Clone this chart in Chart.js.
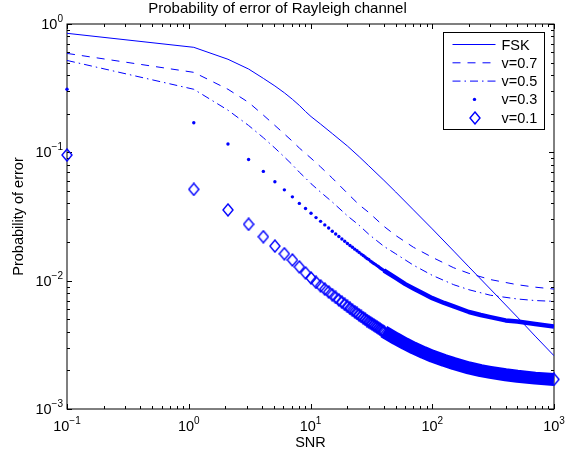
<!DOCTYPE html>
<html>
<head>
<meta charset="utf-8">
<title>Probability of error of Rayleigh channel</title>
<script src="https://cdn.jsdelivr.net/npm/chart.js@4.4.1/dist/chart.umd.min.js"></script>
<style>
  html, body { margin: 0; padding: 0; background: #fff; }
  canvas { display: block; }
</style>
</head>
<body>
<canvas id="errChart" width="573" height="458"></canvas>
<script>
// SNR grid for the three smooth curves
const snrLine = [0.1, 1.1, 2.1, 3.1, 4.1, 5.1, 6.1, 7.1, 8.1, 9.1, 10.1, 12.1, 15.1, 20.1, 25.1, 30.1,
    40.1, 50.1, 70.1, 100.1, 150.1, 200.1, 300.1, 500.1, 700.1, 1000];
const fsk = [0.846, 0.658, 0.531, 0.446, 0.377, 0.329, 0.291, 0.259, 0.232, 0.208, 0.190, 0.166, 0.140, 0.112,
    0.0925, 0.0785, 0.0605, 0.0491, 0.0356, 0.0253, 0.0170, 0.0128, 0.0086, 0.0052, 0.0037, 0.0026];
const v07 = [0.59, 0.42, 0.31, 0.245, 0.195, 0.162, 0.139, 0.122, 0.108, 0.098, 0.090, 0.077, 0.063, 0.048,
    0.039, 0.034, 0.0265, 0.0225, 0.0182, 0.0152, 0.0126, 0.0114, 0.0102, 0.0093, 0.0089, 0.0086];
const v05 = [0.52, 0.31, 0.213, 0.162, 0.130, 0.108, 0.092, 0.080, 0.070, 0.063, 0.057, 0.049, 0.041, 0.032,
    0.027, 0.023, 0.0185, 0.0162, 0.0132, 0.0110, 0.0093, 0.0085, 0.0077, 0.0072, 0.0070, 0.0069];

// SNR steps of 1 where the markers are still told apart
const snrMark = [0.1, 1.1, 2.1, 3.1, 4.1, 5.1, 6.1, 7.1, 8.1, 9.1, 10.1, 11.1, 12.1, 13.1, 14.1, 15.1,
    16.1, 17.1, 18.1, 19.1, 20.1, 21.1, 22.1, 23.1, 24.1, 25.1, 26.1, 27.1, 28.1, 29.1, 30.1,
    31.1, 32.1, 33.1, 34.1, 35.1, 36.1, 37.1, 38.1, 39.1, 40.1];
const v03Mark = [0.310, 0.170, 0.116, 0.088, 0.071, 0.059, 0.051, 0.045, 0.040, 0.0365, 0.0335, 0.0310,
    0.0290, 0.0272, 0.0257, 0.0243, 0.0231, 0.0221, 0.0211, 0.0203, 0.0195, 0.0188, 0.0182, 0.0176,
    0.0171, 0.0166, 0.0161, 0.0157, 0.0153, 0.0149, 0.0146, 0.0142, 0.0139, 0.0136, 0.0134, 0.0131,
    0.0129, 0.0126, 0.0124, 0.0122, 0.0120];
const v01Mark = [0.0953, 0.0515, 0.0356, 0.0275, 0.0220, 0.0186, 0.0162, 0.0145, 0.0128, 0.0115, 0.0105,
    0.0097, 0.0091, 0.0086, 0.00817, 0.00777, 0.00740, 0.00708, 0.00680, 0.00654, 0.00630, 0.00609,
    0.00589, 0.00572, 0.00555, 0.00540, 0.00526, 0.00513, 0.00501, 0.00489, 0.00479, 0.00469, 0.00460,
    0.00451, 0.00442, 0.00435, 0.00427, 0.00420, 0.00413, 0.00407, 0.00401];

// past ~40 the markers pile up into a solid band
const snrTail = [40.1, 50.1, 60.1, 70.1, 85.1, 100.1, 125.1, 150.1, 200.1, 250.1, 300.1, 400.1, 500.1, 700.1, 1000];
const v03Tail = [0.0120, 0.0105, 0.0094, 0.0087, 0.0079, 0.0073, 0.0067, 0.0063, 0.0057, 0.0054, 0.0052,
    0.0049, 0.0048, 0.0046, 0.0044];
const v01Tail = [0.00401, 0.00354, 0.00322, 0.00299, 0.00275, 0.00258, 0.00239, 0.00226, 0.00209, 0.00199,
    0.00193, 0.00185, 0.00180, 0.00174, 0.00170];

const xTickExp = [-1, 0, 1, 2, 3];
const yTickExp = [-3, -2, -1, 0];

const BLUE = '#0000ff';
const FONT = '"Liberation Sans", Arial, Helvetica, sans-serif';
Chart.defaults.font.family = FONT;
Chart.defaults.color = '#000';

function pts(xs, ys) {
    return xs.map((x, i) => ({ x: x, y: ys[i] }));
}

// matlab style diamond, a bit taller than wide
function makeDiamond(w, h) {
    const c = document.createElement('canvas');
    c.width = w + 2;
    c.height = h + 2;
    const g = c.getContext('2d');
    g.strokeStyle = BLUE;
    g.lineWidth = 1.4;
    g.beginPath();
    g.moveTo(c.width / 2, 1);
    g.lineTo(c.width - 1, c.height / 2);
    g.lineTo(c.width / 2, c.height - 1);
    g.lineTo(1, c.height / 2);
    g.closePath();
    g.stroke();
    return c;
}
const diamond = makeDiamond(10, 12);

function drawPow(ctx, exp, x, y, mode) {
    ctx.font = '14.5px ' + FONT;
    const bw = ctx.measureText('10').width;
    const e = String(exp).replace('-', '\u2212');
    ctx.font = '10px ' + FONT;
    const ew = ctx.measureText(e).width;
    let left;
    let base;
    if (mode === 'x') {
        left = x - (bw + ew) / 2;
        base = y;
    } else {
        left = x - bw - ew;
        base = y + 5;
    }
    ctx.textAlign = 'left';
    ctx.textBaseline = 'alphabetic';
    ctx.font = '14.5px ' + FONT;
    ctx.fillText('10', left, base);
    ctx.font = '10px ' + FONT;
    ctx.fillText(e, left + bw, base - 7);
}

// box, inward ticks on all sides, power-of-ten labels
const axesBox = {
    id: 'axesBox',
    beforeDatasetsDraw(chart) {
        const { ctx, chartArea: a, scales: { x, y } } = chart;
        ctx.save();
        ctx.strokeStyle = '#000';
        ctx.fillStyle = '#000';
        ctx.lineWidth = 1;
        ctx.strokeRect(a.left, a.top, a.right - a.left, a.bottom - a.top);
        ctx.beginPath();
        xTickExp.forEach(p => {
            for (let m = 1; m <= 9; m++) {
                const v = m * Math.pow(10, p);
                if (v > x.max * 1.0001) break;
                const px = Math.round(x.getPixelForValue(v)) + 0.5;
                const len = m === 1 ? 5 : 3;
                ctx.moveTo(px, a.bottom); ctx.lineTo(px, a.bottom - len);
                ctx.moveTo(px, a.top); ctx.lineTo(px, a.top + len);
            }
        });
        yTickExp.forEach(p => {
            for (let m = 1; m <= 9; m++) {
                const v = m * Math.pow(10, p);
                if (v > y.max * 1.0001) break;
                const py = Math.round(y.getPixelForValue(v)) + 0.5;
                const len = m === 1 ? 5 : 3;
                ctx.moveTo(a.left, py); ctx.lineTo(a.left + len, py);
                ctx.moveTo(a.right, py); ctx.lineTo(a.right - len, py);
            }
        });
        ctx.stroke();
        xTickExp.forEach(p => drawPow(ctx, p, x.getPixelForValue(Math.pow(10, p)), a.bottom + 22, 'x'));
        yTickExp.forEach(p => drawPow(ctx, p, a.left - 4, y.getPixelForValue(Math.pow(10, p)), 'y'));
        ctx.restore();
    }
};

// boxed legend in the upper right corner of the axes
const boxLegend = {
    id: 'boxLegend',
    afterDraw(chart) {
        const { ctx, chartArea: a } = chart;
        const items = chart.data.datasets.filter(d => d.label);
        const left = Math.round(a.right - 111) + 0.5;
        const top = Math.round(a.top + 8) + 0.5;
        ctx.save();
        ctx.fillStyle = '#fff';
        ctx.strokeStyle = '#000';
        ctx.lineWidth = 1;
        ctx.fillRect(left, top, 101, 97);
        ctx.strokeRect(left, top, 101, 97);
        items.forEach((ds, i) => {
            const ry = top + 12 + i * 18.3;
            if (ds.showLine === false) {
                const cx = left + 31;
                if (ds.pointStyle === 'circle') {
                    ctx.fillStyle = BLUE;
                    ctx.beginPath();
                    ctx.arc(cx, ry, ds.pointRadius, 0, Math.PI * 2);
                    ctx.fill();
                } else {
                    ctx.drawImage(ds.pointStyle, Math.round(cx - ds.pointStyle.width / 2), Math.round(ry - ds.pointStyle.height / 2));
                }
            } else {
                ctx.strokeStyle = BLUE;
                ctx.lineWidth = ds.borderWidth;
                ctx.setLineDash(ds.borderDash || []);
                ctx.beginPath();
                ctx.moveTo(left + 9, ry);
                ctx.lineTo(left + 52, ry);
                ctx.stroke();
                ctx.setLineDash([]);
            }
            ctx.fillStyle = '#000';
            ctx.font = '14.5px ' + FONT;
            ctx.textAlign = 'left';
            ctx.textBaseline = 'middle';
            ctx.fillText(ds.label, left + 58, ry + 1);
        });
        ctx.restore();
    }
};

new Chart(document.getElementById('errChart'), {
    type: 'line',
    data: {
        datasets: [
            { label: 'FSK', data: pts(snrLine, fsk), borderColor: BLUE, borderWidth: 1, pointRadius: 0, tension: 0 },
            { label: 'v=0.7', data: pts(snrLine, v07), borderColor: BLUE, borderWidth: 1, borderDash: [8, 7], pointRadius: 0, tension: 0 },
            { label: 'v=0.5', data: pts(snrLine, v05), borderColor: BLUE, borderWidth: 1, borderDash: [8, 4, 1.5, 4], pointRadius: 0, tension: 0 },
            {
                label: 'v=0.3', data: pts(snrMark, v03Mark), showLine: false, clip: false,
                pointStyle: 'circle', pointRadius: 1.7, pointBackgroundColor: BLUE, pointBorderWidth: 0
            },
            {
                label: 'v=0.1', data: pts(snrMark, v01Mark), showLine: false, clip: false,
                pointStyle: diamond, pointRadius: 6, pointBorderWidth: 0
            },
            {
                label: '', data: pts(snrTail, v03Tail), borderColor: BLUE, borderWidth: 4.5,
                borderJoinStyle: 'round', pointRadius: 0, tension: 0
            },
            {
                label: '', data: pts(snrTail, v01Tail), borderColor: BLUE, borderWidth: 13,
                borderJoinStyle: 'round', tension: 0, clip: false, pointStyle: diamond,
                pointRadius: ctx => ctx.dataIndex === snrTail.length - 1 ? 6 : 0
            }
        ]
    },
    options: {
        responsive: false,
        animation: false,
        events: [],
        devicePixelRatio: 1,
        layout: { padding: { left: 0, right: 18, top: 0, bottom: 0 } },
        plugins: {
            legend: { display: false },
            tooltip: { enabled: false },
            title: {
                display: true,
                text: 'Probability of error of Rayleigh channel',
                font: { size: 15, weight: 'normal' },
                color: '#000',
                padding: { top: 0, bottom: 6 }
            }
        },
        scales: {
            x: {
                type: 'logarithmic', min: 0.1, max: 1000,
                grid: { display: false }, border: { display: false },
                ticks: { display: false },
                title: { display: true, text: 'SNR', font: { size: 14.5 }, color: '#000', padding: { top: 0, bottom: 6 } },
                afterFit: s => { s.height = 49; }
            },
            y: {
                type: 'logarithmic', min: 0.001, max: 1,
                grid: { display: false }, border: { display: false },
                ticks: { display: false },
                title: { display: true, text: 'Probability of error', font: { size: 14.5 }, color: '#000', padding: { top: 10, bottom: 0 } },
                afterFit: s => { s.width = 67; }
            }
        }
    },
    plugins: [axesBox, boxLegend]
});
</script>
</body>
</html>
